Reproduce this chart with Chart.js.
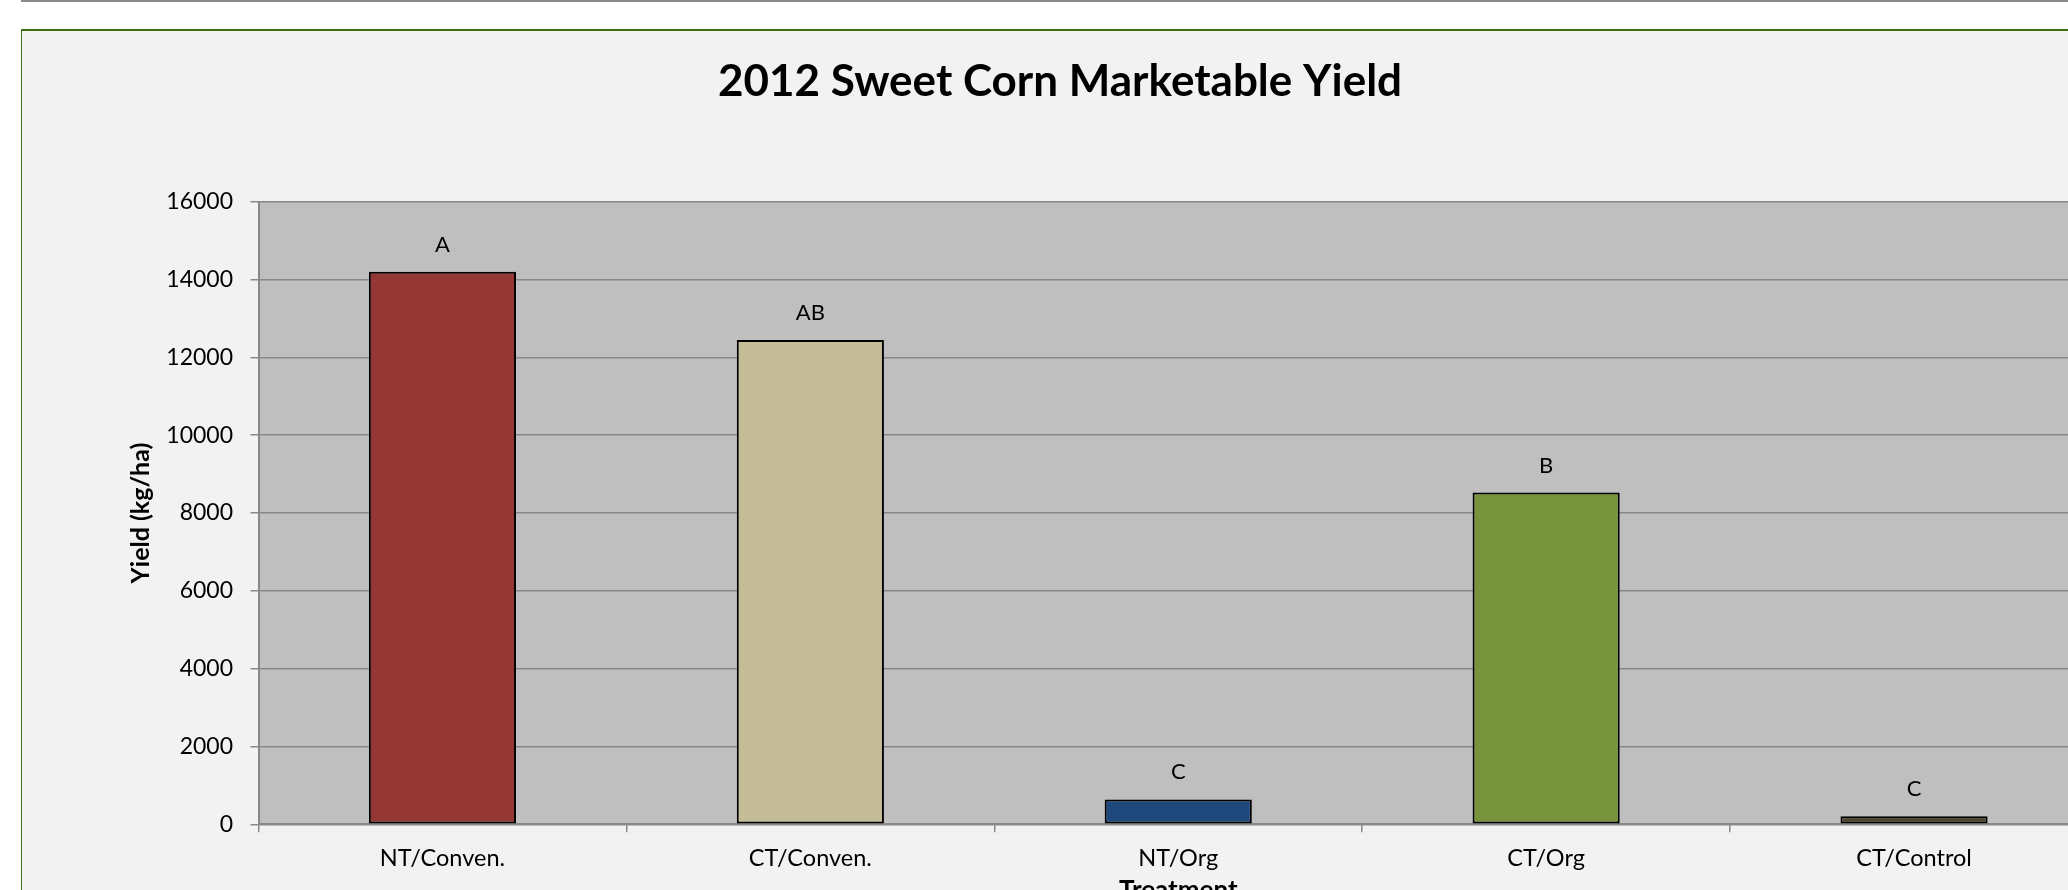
<!DOCTYPE html>
<html>
<head>
<meta charset="utf-8">
<script src="https://cdn.jsdelivr.net/npm/chart.js@4.4.1/dist/chart.umd.min.js"></script>
<style>
  html, body { margin: 0; padding: 0; background: #ffffff; width: 2068px; height: 890px; overflow: hidden; }
  #topline { position: absolute; left: 21px; top: 0; width: 2047px; height: 2px; background: #8a8a8a; }
  #frame { position: absolute; left: 21px; top: 29px; width: 2076px; height: 880px;
           border-top: 2px solid #3a6e0f; border-left: 1px solid #3a6e0f; background: #f2f2f2; }
  #wrap { position: absolute; left: 0; top: 0; width: 2076px; height: 880px; }
</style>
</head>
<body>
<div id="topline"></div>
<div id="frame"><div id="wrap"><canvas id="c"></canvas></div></div>
<script>
const categories = ['NT/Conven.', 'CT/Conven.', 'NT/Org', 'CT/Org', 'CT/Control'];
const yieldValues = [14200, 12450, 640, 8530, 205];
const groupLetters = ['A', 'AB', 'C', 'B', 'C'];
const barColors = ['#953735', '#c4bd97', '#1f497d', '#77933c', '#4a452a'];
const yTickValues = [0, 2000, 4000, 6000, 8000, 10000, 12000, 14000, 16000];

const plotBg = {
  id: 'plotBg',
  beforeDraw(chart) {
    const a = chart.chartArea, ctx = chart.ctx;
    ctx.save();
    ctx.fillStyle = '#bfbfbf';
    ctx.fillRect(a.left, a.top, a.right - a.left, a.bottom - a.top);
    ctx.restore();
  }
};
const letterLabels = {
  id: 'letterLabels',
  afterDatasetsDraw(chart) {
    const ctx = chart.ctx;
    const meta = chart.getDatasetMeta(0);
    ctx.save();
    ctx.font = '22px Lato';
    ctx.fillStyle = '#000000';
    ctx.textAlign = 'center';
    ctx.textBaseline = 'middle';
    meta.data.forEach((el, i) => {
      ctx.fillText(groupLetters[i], el.x, el.y - 27);
    });
    ctx.restore();
  }
};

const gridColor = '#888888';
new Chart(document.getElementById('c'), {
  type: 'bar',
  data: {
    labels: categories,
    datasets: [{
      data: yieldValues,
      backgroundColor: barColors,
      borderColor: '#000000',
      borderWidth: 2,
      borderSkipped: false,
      categoryPercentage: 1.0,
      barPercentage: 0.4
    }]
  },
  options: {
    responsive: true,
    maintainAspectRatio: false,
    animation: false,
    devicePixelRatio: 1,
    layout: { padding: 0 },
    plugins: {
      legend: { display: false },
      tooltip: { enabled: false },
      title: {
        display: true,
        text: '2012 Sweet Corn Marketable Yield',
        color: '#000000',
        font: { family: 'Lato', size: 44, weight: 'bold', lineHeight: 1.2 },
        padding: { top: 24.4, bottom: 93.6 }
      }
    },
    scales: {
      x: {
        z: 1,
        grid: { display: true, drawOnChartArea: false, drawTicks: true, tickLength: 8, color: gridColor, lineWidth: 1.5, offset: true },
        border: { display: true, color: gridColor, width: 2 },
        ticks: { color: '#000000', font: { family: 'Lato', size: 23.5 }, padding: 12.3, maxRotation: 0, autoSkip: false },
        title: { display: true, text: 'Treatment', color: '#000000', font: { family: 'Lato', size: 26, weight: 'bold', lineHeight: 1.2 }, padding: { top: 0, bottom: 5 } },
        afterFit(scale) { scale.height = 86.7; }
      },
      y: {
        min: 0,
        max: 16000,
        afterBuildTicks(scale) { scale.ticks = yTickValues.map(v => ({ value: v })); },
        grid: { color: gridColor, lineWidth: 1.5, drawTicks: true, tickLength: 8 },
        border: { display: true, color: gridColor, width: 2 },
        ticks: { color: '#000000', font: { family: 'Lato', size: 23 }, padding: 17.5, callback: v => String(v) },
        title: { display: true, text: 'Yield (kg/ha)', color: '#000000', font: { family: 'Lato', size: 25, weight: 'bold', lineHeight: 1.2 }, padding: { top: 104, bottom: 0 } },
        afterFit(scale) { scale.width = 236.5; }
      }
    }
  },
  plugins: [plotBg, letterLabels]
});
</script>
</body>
</html>
